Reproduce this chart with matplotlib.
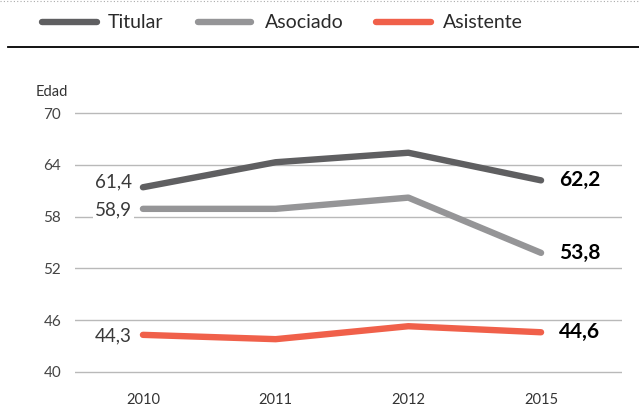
import matplotlib.pyplot as plt
from matplotlib.lines import Line2D

years = ['2010', '2011', '2012', '2015']
titular = [61.4, 64.3, 65.4, 62.2]
asociado = [58.9, 58.9, 60.2, 53.8]
asistente = [44.3, 43.8, 45.3, 44.6]
series_names = ['Titular', 'Asociado', 'Asistente']
colors = ['#5f5f61', '#959597', '#f0604a']
yticks = [40, 46, 52, 58, 64, 70]

plt.rcParams['font.family'] = ['Lato', 'DejaVu Sans']

fig = plt.figure(figsize=(6.39, 4.15), dpi=100)
ax = fig.add_axes([75 / 639, 0.0829, 547 / 639, 0.6655])
ax.set_xlim(-0.512, 3.61)
ax.set_ylim(39, 71)

for y in yticks:
    ax.axhline(y, color='#b9b9b9', lw=1, zorder=1)

x = list(range(len(years)))
data = [titular, asociado, asistente]
for vals, c in zip(data, colors):
    ax.plot(x, vals, color=c, lw=4.6, solid_capstyle='round',
            solid_joinstyle='round', zorder=3)
    # left value
    ax.annotate(f'{vals[0]:.1f}'.replace('.', ','), (0, vals[0]),
                xytext=(-8, 4 if vals is titular else -1), textcoords='offset points',
                ha='right', va='center', fontsize=13.5, color='#3a3a3a',
                bbox=dict(fc='white', ec='none', pad=1.5), zorder=2)
    # right value
    ax.annotate(f'{vals[-1]:.1f}'.replace('.', ','), (3, vals[-1]),
                xytext=(13, 0), textcoords='offset points',
                ha='left', va='center', fontsize=15, color='black',
                fontweight='bold')

for s in ax.spines.values():
    s.set_visible(False)
ax.set_yticks(yticks)
ax.set_yticklabels([str(v) for v in yticks], fontsize=11, color='#444444')
ax.tick_params(axis='y', length=0, pad=10)
ax.set_xticks(x)
ax.set_xticklabels(years, fontsize=10.5, color='#333333')
ax.tick_params(axis='x', length=0, pad=9)

fig.text(36 / 639, 1 - 92 / 415, 'Edad', fontsize=10.5, color='#333333',
         va='center', ha='left')

# legend
leg_x = [(42, 97, 108), (198, 251, 265), (376, 431, 443)]
ly = 1 - 22 / 415
for (x0, x1, tx), name, c in zip(leg_x, series_names, colors):
    fig.add_artist(Line2D([x0 / 639, x1 / 639], [ly, ly], color=c, lw=4.6,
                          solid_capstyle='round', transform=fig.transFigure))
    fig.text(tx / 639, ly, name, fontsize=14, color='#2a2a2a',
             va='center', ha='left')

fig.add_artist(Line2D([8 / 639, 1], [1 - 47 / 415] * 2, color='black', lw=1.3,
                      transform=fig.transFigure))
fig.add_artist(Line2D([0, 1], [1 - 1 / 415] * 2, color='#aaaaaa', lw=0.8,
                      ls=(0, (1, 2)), transform=fig.transFigure))

fig.savefig('out.png', dpi=100)
